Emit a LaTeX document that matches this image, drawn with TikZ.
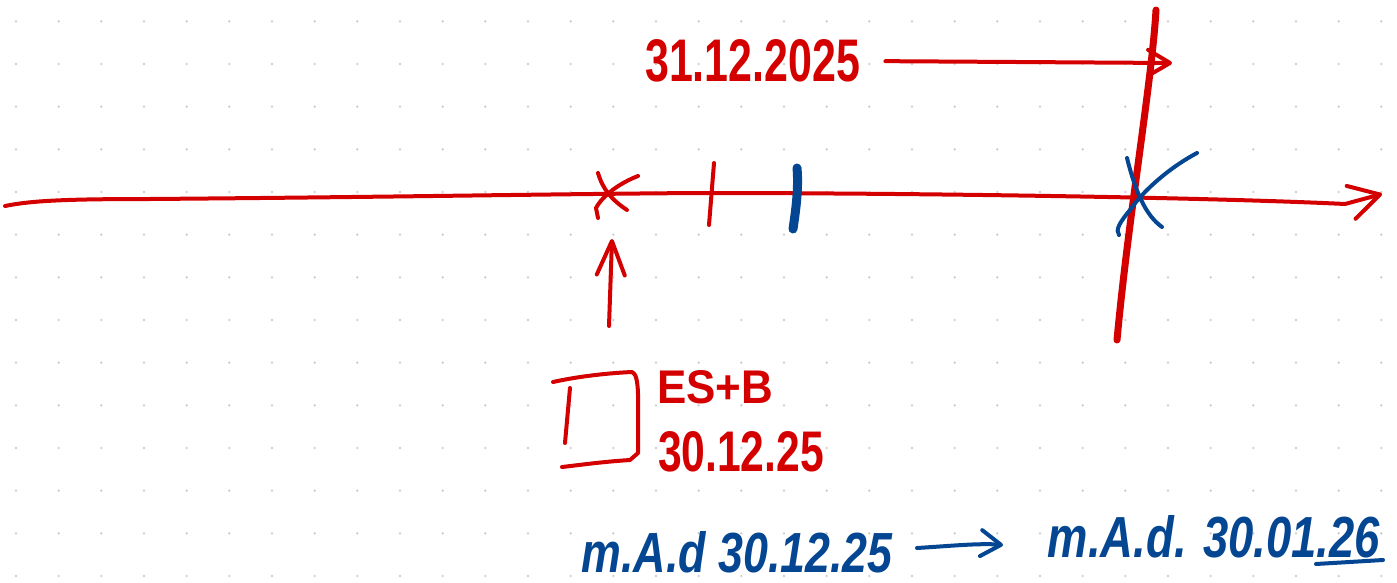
\documentclass[tikz,border=0pt]{standalone}
\usepackage{fontspec}
\setmainfont{Liberation Sans}
\usetikzlibrary{arrows.meta}
\definecolor{pen}{RGB}{212,0,0}
\definecolor{ink}{RGB}{4,70,146}
\definecolor{dotc}{RGB}{205,205,205}
\newcommand{\fitbox}[3]{\resizebox{#1pt}{#2pt}{\bfseries #3}}
\tikzset{
  redline/.style={draw=pen,line width=4pt,line cap=round,line join=round},
  blueline/.style={draw=ink,line width=4pt,line cap=round,line join=round},
  redtxt/.style={text=pen,inner sep=0pt},
  bluetxt/.style={text=ink,inner sep=0pt,font=\itshape},
  barbtip/.style 2 args={-{Straight Barb[round,length=#1pt,width=#2pt]}}
}
\begin{document}
\begin{tikzpicture}[x=1pt,y=-1pt]
\useasboundingbox (0,0) rectangle (1397,583);
\fill[white] (0,0) rectangle (1397,583);
\foreach \i in {0,...,32}{\foreach \j in {0,...,13}{\fill[dotc] ({16+42.667*\i},{21.33+42.667*\j}) circle[radius=1.3pt];}}

% texts
\node[redtxt,anchor=west] (d31) at (645,61) {\fitbox{215}{42}{31.12.2025}};
\node[redtxt] (esb) at (715,387) {\fitbox{116}{33}{ES+B}};
\node[redtxt] (d3012) at (741,452) {\fitbox{166}{40}{30.12.25}};
\node[bluetxt] (mad1) at (737,552) {\fitbox{311}{41}{\itshape m.A.d 30.12.25}};
\node[bluetxt] (mad2) at (1214,537) {\fitbox{332}{42}{\itshape m.A.d. 30.01.26}};

% coordinates
\coordinate (a0) at (5,206);
\coordinate (aend) at (1382,194);
\coordinate (t31tip) at (1172,63);
\coordinate (upbase) at (609,326);
\coordinate (uptip) at (612,239);
\coordinate (barr1) at (917,548);
\coordinate (barr2) at (1003,545);
\coordinate (vtop) at (1156,10);
\coordinate (vbot) at (1117,340);

% axis
\draw[redline,barbtip={30}{34}] (a0) .. controls (30,201) and (60,199) .. (150,199)
   .. controls (400,197) and (550,194) .. (700,193)
   .. controls (900,193) and (1200,197) .. (1345,204) -- (aend);

% left X mark
\draw[redline] (598,173) .. controls (603,190) and (612,200) .. (627,210);
\draw[redline] (638,176) .. controls (620,183) and (603,195) .. (596,208) -- (598,218);
% tick
\draw[redline] (714,163) -- (709,225);
% blue mark
\draw[draw=ink,line width=9pt,line cap=round] (797,168) .. controls (799,190) and (795,215) .. (793,229);
% up arrow
\draw[redline,barbtip={34}{28}] (upbase) -- (uptip);

% bracket box
\draw[redline] (553,382) .. controls (580,376) and (610,373) .. (632,372) .. controls (640,375) and (638,400) .. (638,453) -- (630,460) .. controls (600,462) and (580,465) .. (562,467);
\draw[redline] (570,388) -- (565,443);

% top arrow
\draw[redline,barbtip={22}{26},shorten <=25pt] (d31.east) -- (t31tip);
% big vertical stroke
\draw[draw=pen,line width=7pt,line cap=round] (vtop) .. controls (1152,80) and (1128,220) .. (vbot);

% blue X
\draw[blueline] (1127,158) .. controls (1135,190) and (1145,215) .. (1162,227);
\draw[blueline] (1197,153) .. controls (1165,170) and (1140,195) .. (1130,210) .. controls (1120,222) and (1115,230) .. (1119,235);

% bottom arrow and underline
\draw[blueline,barbtip={20}{26}] (barr1) .. controls (950,546) and (980,543) .. (barr2);
\draw[blueline] (1316,564) -- (1383,560);
\end{tikzpicture}
\end{document}
